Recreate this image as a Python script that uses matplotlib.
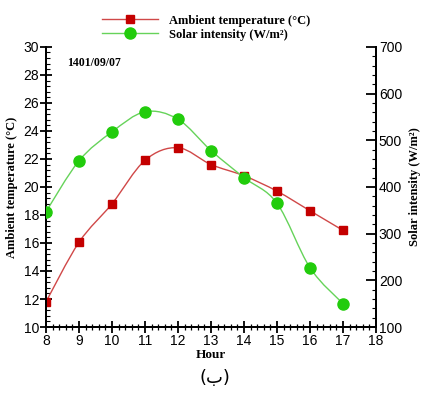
import numpy as np
import matplotlib
matplotlib.use("Agg")
import matplotlib.pyplot as plt
from matplotlib.path import Path
from matplotlib.patches import PathPatch
from matplotlib.lines import Line2D
from matplotlib.ticker import MultipleLocator

hours = [8, 9, 10, 11, 12, 13, 14, 15, 16, 17]
temperature = [11.8, 16.05, 18.8, 21.9, 22.8, 21.6, 20.8, 19.7, 18.3, 16.9]
solar = [347, 456, 518, 561, 545, 478, 420, 365, 227, 150]
date_label = "1401/09/07"

serif = "Liberation Serif"
sans = "Liberation Sans"


def smooth_path(x, y):
    # catmull-rom curve through the points, drawn as bezier segments
    p = np.column_stack([x, y]).astype(float)
    p = np.vstack([p[0], p, p[-1]])
    verts = [p[1]]
    codes = [Path.MOVETO]
    for i in range(1, len(p) - 2):
        c1 = p[i] + (p[i + 1] - p[i - 1]) / 6.0
        c2 = p[i + 1] - (p[i + 2] - p[i]) / 6.0
        verts += [c1, c2, p[i + 1]]
        codes += [Path.CURVE4] * 3
    return Path(verts, codes)


def main():
    fig = plt.figure(figsize=(4.22, 3.94), dpi=100)
    ax = fig.add_axes([0.109, 0.170, 0.782, 0.711])
    ax2 = ax.twinx()

    red_line = "#d04848"
    red_mark = "#c40000"
    green_line = "#66d35a"
    green_mark = "#22cc0c"

    ax.add_patch(PathPatch(smooth_path(hours, temperature), fill=False,
                           edgecolor=red_line, lw=1.0, zorder=2))
    ax.plot(hours, temperature, ls="none", marker="s", ms=5.6,
            color=red_mark, zorder=3)
    ax2.add_patch(PathPatch(smooth_path(hours, solar), fill=False,
                            edgecolor=green_line, lw=1.0, zorder=2))
    ax2.plot(hours, solar, ls="none", marker="o", ms=8,
             color=green_mark, zorder=3)

    ax.set_xlim(8, 18)
    ax.set_ylim(10, 30)
    ax2.set_ylim(100, 700)

    ax.xaxis.set_major_locator(MultipleLocator(1))
    ax.xaxis.set_minor_locator(MultipleLocator(0.2))
    ax.yaxis.set_major_locator(MultipleLocator(2))
    ax.yaxis.set_minor_locator(MultipleLocator(0.4))
    ax2.yaxis.set_major_locator(MultipleLocator(100))
    ax2.yaxis.set_minor_locator(MultipleLocator(20))

    for a in (ax, ax2):
        a.spines["top"].set_visible(False)
        for s in a.spines.values():
            s.set_linewidth(1.4)
    ax.tick_params(axis="x", which="major", direction="inout", length=8,
                   width=1.3, labelsize=10, pad=1)
    ax.tick_params(axis="x", which="minor", direction="inout", length=4,
                   width=0.9)
    ax.tick_params(axis="y", which="major", direction="inout", length=8,
                   width=1.3, labelsize=10, pad=1)
    ax.tick_params(axis="y", which="minor", direction="in", length=3,
                   width=0.8)
    ax2.tick_params(axis="y", which="major", direction="in", length=7,
                    width=1.3, labelsize=10, pad=2)
    ax2.tick_params(axis="y", which="minor", direction="in", length=3,
                    width=0.8)
    for lab in ax.get_xticklabels() + ax.get_yticklabels() + ax2.get_yticklabels():
        lab.set_family(sans)

    ax.set_xlabel("Hour", family=serif, fontweight="bold", fontsize=9.5)
    ax.set_ylabel("Ambient temperature (°C)", family=serif,
                  fontweight="bold", fontsize=9)
    ax2.set_ylabel("Solar intensity (W/m²)", family=serif,
                   fontweight="bold", fontsize=9, rotation=90)
    ax.xaxis.set_label_coords(0.5, -0.08)
    ax.yaxis.set_label_coords(-0.085, 0.5)
    ax2.yaxis.set_label_coords(1.1, 0.5)

    ax.text(0.063, 0.965, date_label, transform=ax.transAxes, family=serif,
            fontweight="bold", fontsize=8.5, va="top")

    handles = [
        Line2D([], [], color=red_line, lw=1.0, marker="s", ms=5.6,
               mfc=red_mark, mec=red_mark),
        Line2D([], [], color=green_line, lw=1.0, marker="o", ms=8,
               mfc=green_mark, mec=green_mark),
    ]
    fig.legend(handles, ["Ambient temperature (°C)", "Solar intensity (W/m²)"],
               loc="upper left", bbox_to_anchor=(0.22, 0.985), frameon=False,
               prop={"family": serif, "weight": "bold", "size": 9},
               handlelength=4.5, handletextpad=0.9, labelspacing=0.15,
               borderaxespad=0.3)

    fig.text(0.51, 0.04, "(ب)", ha="center", va="center", fontsize=13,
             family=["DejaVu Sans"])

    fig.savefig("out.png", dpi=100)


if __name__ == '__main__':
    main()
